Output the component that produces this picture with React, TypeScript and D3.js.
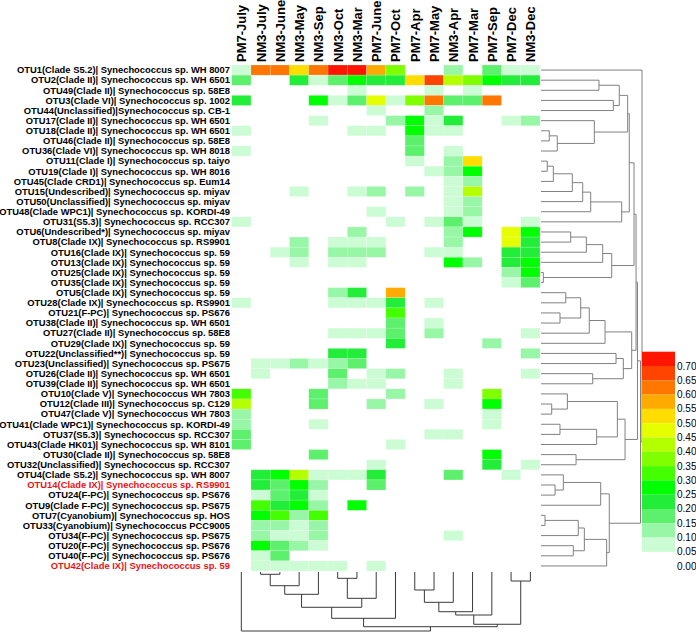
import React from "react";
import * as d3 from "d3";

const columns = [
  "PM7-July", "NM3-July", "NM3-June", "NM3-May", "NM3-Sep", "NM3-Oct", "NM3-Mar", "PM7-June",
  "PM7-Oct", "PM7-Apr", "PM7-May", "NM3-Apr", "PM7-Mar", "PM7-Sep", "PM7-Dec", "NM3-Dec",
];

const rowLabels = [
  "OTU1(Clade S5.2)| Synechococcus sp. WH 8007",
  "OTU2(Clade II)| Synechococcus sp. WH 6501",
  "OTU49(Clade II)| Synechococcus sp. 58E8",
  "OTU3(Clade VI)| Synechococcus sp. 1002",
  "OTU44(Unclassified)|Synechococcus sp. CB-1",
  "OTU17(Clade II)| Synechococcus sp. WH 6501",
  "OTU18(Clade II)| Synechococcus sp. WH 6501",
  "OTU46(Clade II)| Synechococcus sp. 58E8",
  "OTU36(Clade VI)| Synechococcus sp. WH 8018",
  "OTU11(Clade I)| Synechococcus sp. taiyo",
  "OTU19(Clade I)| Synechococcus sp. WH 8016",
  "OTU45(Clade CRD1)| Synechococcus sp. Eum14",
  "OTU15(Undescribed)| Synechococcus sp. miyav",
  "OTU50(Unclassified)| Synechococcus sp. miyav",
  "OTU48(Clade WPC1)| Synechococcus sp. KORDI-49",
  "OTU31(S5.3)| Synechococcus sp. RCC307",
  "OTU6(Undescribed*)| Synechococcus sp. miyav",
  "OTU8(Clade IX)| Synechococcus sp. RS9901",
  "OTU16(Clade IX)| Synechococcus sp. 59",
  "OTU13(Clade IX)| Synechococcus sp. 59",
  "OTU25(Clade IX)| Synechococcus sp. 59",
  "OTU35(Clade IX)| Synechococcus sp. 59",
  "OTU5(Clade IX)| Synechococcus sp. 59",
  "OTU28(Clade IX)| Synechococcus sp. RS9901",
  "OTU21(F-PC)| Synechococcus sp. PS676",
  "OTU38(Clade II)| Synechococcus sp. WH 6501",
  "OTU27(Clade II)| Synechococcus sp. 58E8",
  "OTU29(Clade IX)| Synechococcus sp. 59",
  "OTU22(Unclassified**)| Synechococcus sp. 59",
  "OTU23(Unclassified)| Synechococcus sp. PS675",
  "OTU26(Clade II)| Synechococcus sp. WH 6501",
  "OTU39(Clade II)| Synechococcus sp. WH 6501",
  "OTU10(Clade V)| Synechococcus WH 7803",
  "OTU12(Clade III)| Synechococcus sp. C129",
  "OTU47(Clade V)| Synechococcus WH 7803",
  "OTU41(Clade WPC1)| Synechococcus sp. KORDI-49",
  "OTU37(S5.3)| Synechococcus sp. RCC307",
  "OTU43(Clade HK01)| Synechococcus sp. WH 8101",
  "OTU30(Clade II)| Synechococcus sp. 58E8",
  "OTU32(Unclassified)| Synechococcus sp. RCC307",
  "OTU4(Clade S5.2)| Synechococcus sp. WH 8007",
  "OTU14(Clade IX)| Synechococcus sp. RS9901",
  "OTU24(F-PC)| Synechococcus sp. PS676",
  "OTU9(Clade F-PC)| Synechococcus sp. PS675",
  "OTU7(Cyanobium)| Synechococcus sp. HOS",
  "OTU33(Cyanobium)| Synechococcus PCC9005",
  "OTU34(F-PC)| Synechococcus sp. PS675",
  "OTU20(F-PC)| Synechococcus sp. PS676",
  "OTU40(F-PC)| Synechococcus sp. PS676",
  "OTU42(Clade IX)| Synechococcus sp. 59",
];

const redLabels = [
  "OTU14(Clade IX)| Synechococcus sp. RS9901",
  "OTU42(Clade IX)| Synechococcus sp. 59",
];

// relative abundance values, one row per OTU, columns in the order above
const values: number[][] = [
  [0.07, 0.62, 0.62, 0.52, 0.62, 0.72, 0.72, 0.57, 0.37, 0, 0, 0.12, 0, 0.17, 0.07, 0.07],
  [0.17, 0, 0, 0.22, 0.07, 0.17, 0.27, 0.22, 0.22, 0.52, 0.67, 0.42, 0.37, 0.27, 0.22, 0.22],
  [0, 0, 0, 0, 0, 0, 0.07, 0, 0, 0, 0.07, 0, 0.07, 0, 0, 0],
  [0.22, 0, 0, 0, 0.27, 0.07, 0.17, 0.47, 0.07, 0.37, 0.62, 0.17, 0.17, 0.62, 0, 0],
  [0, 0, 0, 0, 0, 0, 0, 0.07, 0, 0, 0.12, 0, 0, 0, 0, 0],
  [0, 0, 0, 0, 0.07, 0, 0, 0, 0.12, 0.27, 0.07, 0.22, 0, 0, 0.07, 0.12],
  [0.07, 0, 0, 0, 0, 0, 0.07, 0.07, 0, 0.27, 0.07, 0.07, 0, 0, 0, 0],
  [0, 0, 0, 0, 0, 0, 0, 0, 0, 0.17, 0, 0, 0, 0, 0, 0],
  [0.07, 0, 0, 0, 0, 0, 0, 0, 0, 0.17, 0, 0.07, 0, 0, 0, 0],
  [0, 0, 0, 0, 0, 0, 0, 0, 0, 0.07, 0, 0.12, 0.52, 0, 0, 0],
  [0, 0, 0, 0, 0, 0, 0, 0, 0, 0, 0.07, 0.12, 0.27, 0, 0, 0],
  [0, 0, 0, 0, 0, 0, 0, 0, 0, 0, 0, 0.07, 0.12, 0, 0, 0],
  [0, 0, 0, 0.07, 0, 0, 0.07, 0.12, 0, 0.12, 0, 0.07, 0.42, 0, 0, 0],
  [0, 0, 0, 0, 0, 0, 0, 0, 0, 0, 0, 0.07, 0.12, 0, 0, 0],
  [0, 0, 0, 0, 0, 0, 0, 0.07, 0, 0, 0, 0.07, 0.12, 0, 0, 0],
  [0.07, 0, 0, 0, 0, 0, 0, 0, 0.07, 0, 0.07, 0.17, 0.07, 0, 0, 0.07],
  [0, 0, 0, 0, 0, 0, 0.12, 0, 0, 0, 0, 0.12, 0.27, 0, 0.47, 0.27],
  [0, 0, 0, 0.12, 0, 0.07, 0.07, 0.07, 0, 0, 0, 0.12, 0, 0, 0.47, 0.22],
  [0, 0, 0.07, 0.12, 0, 0.12, 0.12, 0.12, 0, 0, 0.07, 0.07, 0, 0, 0.22, 0.22],
  [0, 0, 0, 0.07, 0, 0.07, 0.07, 0, 0, 0, 0, 0.27, 0.12, 0, 0.22, 0.27],
  [0, 0, 0, 0, 0, 0, 0, 0, 0, 0, 0, 0, 0, 0, 0.12, 0.27],
  [0, 0, 0, 0, 0, 0, 0, 0, 0, 0, 0, 0, 0, 0, 0.07, 0.17],
  [0, 0, 0, 0, 0, 0.12, 0.22, 0, 0.57, 0, 0, 0, 0, 0, 0, 0],
  [0.07, 0, 0, 0, 0, 0.07, 0.07, 0.07, 0.22, 0, 0.07, 0, 0, 0, 0, 0],
  [0, 0, 0, 0, 0, 0, 0, 0, 0.32, 0, 0, 0, 0, 0, 0, 0],
  [0, 0, 0, 0, 0, 0, 0, 0, 0.17, 0, 0.07, 0, 0, 0, 0, 0],
  [0, 0, 0, 0, 0, 0.07, 0.07, 0.07, 0.17, 0, 0.12, 0, 0, 0, 0, 0.07],
  [0, 0, 0, 0, 0, 0, 0, 0, 0.22, 0, 0, 0, 0, 0.12, 0, 0],
  [0, 0, 0, 0, 0, 0.22, 0.22, 0, 0, 0, 0, 0, 0, 0, 0, 0.12],
  [0, 0.07, 0.07, 0.12, 0.07, 0.12, 0.17, 0, 0, 0, 0, 0, 0, 0, 0, 0],
  [0, 0.07, 0, 0, 0, 0.17, 0, 0.07, 0.12, 0, 0, 0.07, 0, 0, 0, 0.07],
  [0, 0, 0, 0, 0, 0.12, 0.07, 0.07, 0, 0, 0, 0.07, 0, 0, 0, 0],
  [0.32, 0, 0, 0, 0.17, 0, 0, 0, 0.12, 0, 0, 0, 0, 0.37, 0, 0],
  [0.42, 0, 0, 0, 0.17, 0, 0, 0.12, 0, 0, 0.07, 0, 0, 0.27, 0, 0],
  [0.12, 0, 0, 0, 0, 0, 0, 0, 0, 0, 0, 0, 0, 0.07, 0, 0],
  [0.12, 0, 0, 0, 0.07, 0, 0, 0, 0, 0, 0, 0, 0, 0.07, 0, 0],
  [0.17, 0, 0, 0, 0, 0, 0, 0, 0, 0, 0.07, 0.07, 0, 0, 0, 0],
  [0.17, 0, 0, 0, 0, 0, 0, 0, 0.07, 0, 0, 0, 0, 0, 0, 0],
  [0, 0, 0, 0, 0.17, 0, 0, 0, 0, 0, 0, 0, 0, 0.27, 0, 0],
  [0, 0, 0, 0, 0, 0, 0, 0.07, 0, 0, 0, 0, 0, 0.22, 0, 0.07],
  [0, 0.22, 0.27, 0.42, 0.07, 0.07, 0.07, 0.22, 0, 0, 0, 0.17, 0, 0, 0.07, 0],
  [0, 0.22, 0.17, 0.27, 0.12, 0, 0, 0.17, 0, 0, 0, 0, 0, 0, 0, 0],
  [0, 0.07, 0.17, 0.22, 0.07, 0, 0, 0, 0, 0, 0, 0, 0, 0, 0, 0],
  [0, 0.32, 0.22, 0.27, 0.12, 0, 0.27, 0, 0, 0, 0, 0, 0, 0, 0, 0],
  [0, 0.27, 0.32, 0.12, 0.32, 0, 0, 0, 0, 0, 0, 0, 0, 0, 0, 0],
  [0, 0.12, 0.12, 0.07, 0.12, 0, 0, 0, 0, 0, 0, 0, 0, 0, 0, 0],
  [0, 0.12, 0.07, 0.07, 0.12, 0, 0, 0, 0, 0, 0, 0.07, 0, 0, 0, 0],
  [0, 0.27, 0.17, 0.12, 0.07, 0, 0, 0, 0, 0, 0, 0, 0, 0, 0, 0],
  [0, 0.07, 0.17, 0, 0, 0, 0, 0, 0, 0, 0, 0, 0, 0, 0, 0],
  [0, 0.07, 0.07, 0.07, 0.07, 0.07, 0, 0.07, 0, 0, 0, 0, 0, 0, 0, 0],
];

const legendTicks = [0.7, 0.65, 0.6, 0.55, 0.5, 0.45, 0.4, 0.35, 0.3, 0.25, 0.2, 0.15, 0.1, 0.05, 0.0];
const binThresholds = [0.05, 0.1, 0.15, 0.2, 0.25, 0.3, 0.35, 0.4, 0.45, 0.5, 0.55, 0.6, 0.65, 0.7];
const binColors = [
  "#ffffff", "#ccfcd4", "#98f7a6", "#5cf06c", "#22ee3a", "#00ff00", "#44ff00", "#7fff00",
  "#b4ff00", "#e6ff00", "#ffdd00", "#ffaa00", "#ff7700", "#ff4400", "#ff1500",
];

type TNode = number | [TNode, TNode, number];

// row clustering (leaf = row index, last number = merge height, 0..1)
const rowA: TNode = [[1, 2, 0.574], [3, 4, 0.716], 0.775];
const rowD: TNode = [5, [[6, 7, 0.082], 8, 0.161], 0.528];
const rowG: TNode = [[[[[[9, 10, 0.062], 11, 0.122], 12, 0.31], 13, 0.413], 14, 0.492], 15, 0.799];
const rowF: TNode = [[rowA, rowD, 0.858], rowG, 0.874];
const rowI: TNode = [[[[16, 17, 0.294], 18, 0.449], 19, 0.611], [20, 21, 0.023], 0.7];
const rowH: TNode = [rowF, rowI, 0.921];
const rowM: TNode = [
  [[[[22, 23, 0.245], [24, 25, 0.188], 0.393], 26, 0.478], 27, 0.634],
  [[28, 29, 0.743], [30, 31, 0.512], 0.815],
  0.898,
];
const rowL1: TNode = [[[32, [33, 34, 0.106], 0.261], [[35, 36, 0.188], 37, 0.551], 0.756], [38, 39, 0.347], 0.832];
const rowL2: TNode = [
  [[40, [41, 42, 0.139], 0.221], 43, 0.591],
  [[[[44, 45, 0.04], 46, 0.369], [47, 48, 0.32], 0.429], 49, 0.65],
  0.676,
];
const rowTree: TNode = [0, [[[rowH, rowM, 0.941], rowL1, 0.955], rowL2, 0.985], 1.0];

// column clustering
const colTree: TNode = [
  0,
  [
    [[[[[1, 2, 0.039], 3, 0.232], 4, 0.378], [[5, 6, 0.107], 7, 0.446], 0.598], 8, 0.785],
    [[[[[9, 10, 0.305], 11, 0.514], 12, 0.673], 13, 0.729], [14, 15, 0.153], 0.886],
    0.927,
  ],
  1.0,
];

function dendroSegments(tree: TNode, leafPos: (i: number) => number) {
  const segs: { p1: number; p2: number; h1: number; h2: number; h: number }[] = [];
  const walk = (n: TNode): { pos: number; h: number } => {
    if (typeof n === "number") return { pos: leafPos(n), h: 0 };
    const a = walk(n[0]);
    const b = walk(n[1]);
    segs.push({ p1: a.pos, p2: b.pos, h1: a.h, h2: b.h, h: n[2] });
    return { pos: (a.pos + b.pos) / 2, h: n[2] };
  };
  walk(tree);
  return segs;
}

export default function App() {
  const W = 696;
  const H = 633;
  const x = d3.scaleBand<string>().domain(columns).range([231.7, 540]);
  const y = d3.scaleBand<string>().domain(rowLabels).range([65, 571]);
  const color = d3.scaleThreshold<number, string>().domain(binThresholds).range(binColors);

  const rowDx = d3.scaleLinear().domain([0, 1]).range([541, 642]);
  const colDy = d3.scaleLinear().domain([0, 1]).range([572, 631]);

  const rowSegs = dendroSegments(rowTree, (i) => (y(rowLabels[i]) as number) + y.bandwidth() / 2);
  const colSegs = dendroSegments(colTree, (i) => (x(columns[i]) as number) + x.bandwidth() / 2);

  const legY = d3.scaleLinear().domain([0.7, 0.0]).range([366, 566]);
  const legendBlocks = binThresholds.slice().reverse();

  return (
    <div style={{ position: "absolute", left: 0, top: 0 }}>
      <svg width={W} height={H} style={{ display: "block" }} fontFamily="'Liberation Sans', Arial, sans-serif">
        <rect width={W} height={H} fill="#ffffff" />
        {/* heatmap cells */}
        {values.map((row, ri) =>
          row.map((v, ci) =>
            v > 0 ? (
              <rect
                key={`${ri}-${ci}`}
                x={x(columns[ci])}
                y={y(rowLabels[ri])}
                width={x.bandwidth()}
                height={y.bandwidth()}
                fill={color(v)}
                stroke="#ffffff"
                strokeOpacity={0.35}
                strokeWidth={0.5}
              />
            ) : null
          )
        )}
        {/* column labels */}
        {columns.map((c) => (
          <text
            key={c}
            transform={`translate(${(x(c) as number) + x.bandwidth() / 2 + 5},62) rotate(-90)`}
            fontSize={13}
            fontWeight="bold"
            fill="#000"
          >
            {c}
          </text>
        ))}
        {/* row labels */}
        {rowLabels.map((r) => (
          <text
            key={r}
            x={230}
            y={(y(r) as number) + y.bandwidth() / 2}
            dy="0.35em"
            textAnchor="end"
            fontSize={9.4}
            fontWeight="bold"
            fill={redLabels.includes(r) ? "#ee1111" : "#000"}
          >
            {r}
          </text>
        ))}
        {/* row dendrogram */}
        <g fill="none" stroke="#808080" strokeWidth={1}>
          {rowSegs.map((s, i) => (
            <path
              key={i}
              d={`M${rowDx(s.h1)},${s.p1}H${rowDx(s.h)}V${s.p2}H${rowDx(s.h2)}`}
            />
          ))}
        </g>
        {/* column dendrogram */}
        <g fill="none" stroke="#3a3a3a" strokeWidth={1}>
          {colSegs.map((s, i) => (
            <path
              key={i}
              d={`M${s.p1},${colDy(s.h1)}V${colDy(s.h)}H${s.p2}V${colDy(s.h2)}`}
            />
          ))}
        </g>
        {/* legend */}
        {legendBlocks.map((t, i) => (
          <rect
            key={t}
            x={642}
            y={legY(0.7) - 14.3 + i * 14.3}
            width={33}
            height={14.3}
            fill={color(t + 0.01)}
          />
        ))}
        {legendTicks.map((t) => (
          <text key={t} x={677} y={legY(t)} dy="0.35em" fontSize={10} fill="#000">
            {t.toFixed(2)}
          </text>
        ))}
      </svg>
    </div>
  );
}
